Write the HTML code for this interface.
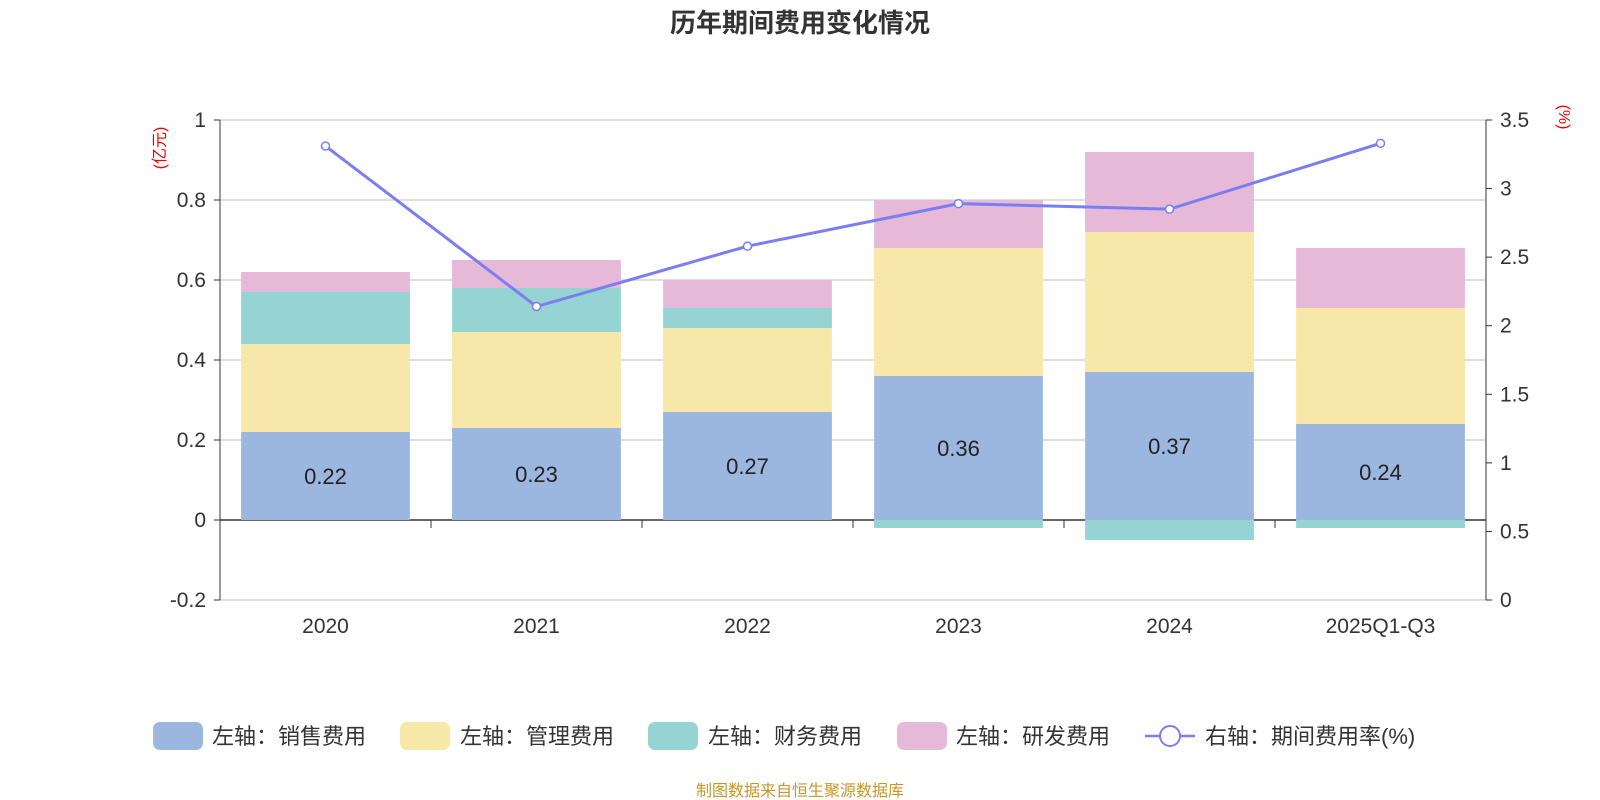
<!DOCTYPE html>
<html><head><meta charset="utf-8">
<style>
html,body{margin:0;padding:0;background:#fff;}
svg{display:block;font-family:"Liberation Sans","Noto Sans CJK SC",sans-serif;}
</style></head>
<body>
<svg id="chart" width="1600" height="800" viewBox="0 0 1600 800">
<text x="800" y="32" text-anchor="middle" font-size="26" font-weight="bold" fill="#333">历年期间费用变化情况</text>
<text transform="translate(165,148) rotate(-90)" text-anchor="middle" font-size="16" fill="#e00">(亿元)</text>
<text transform="translate(1559,117) rotate(90)" text-anchor="middle" font-size="16" fill="#e00">(%)</text>
<g id="grid"></g><g id="bars"></g><g id="axes"></g><g id="line"></g>
<g id="legend" font-size="22" fill="#333">
<rect x="153" y="722" width="50" height="28" rx="7" fill="#9bb7e0"/>
<text x="212" y="744">左轴：销售费用</text>
<rect x="400" y="722" width="50" height="28" rx="7" fill="#f7e7a8"/>
<text x="460" y="744">左轴：管理费用</text>
<rect x="648" y="722" width="50" height="28" rx="7" fill="#96d3d3"/>
<text x="708" y="744">左轴：财务费用</text>
<rect x="897" y="722" width="50" height="28" rx="7" fill="#e6b9d9"/>
<text x="956" y="744">左轴：研发费用</text>
<line x1="1145" y1="736" x2="1195" y2="736" stroke="#7a7ef0" stroke-width="2.5"/>
<circle cx="1170" cy="736" r="10" fill="#fff" stroke="#7a7ef0" stroke-width="2"/>
<text x="1205" y="744">右轴：期间费用率(%)</text>
</g>
<text x="800" y="796" text-anchor="middle" font-size="16" fill="#c8962a">制图数据来自恒生聚源数据库</text>
</svg>
<script>
const categories=["2020","2021","2022","2023","2024","2025Q1-Q3"];
const sales=[0.22,0.23,0.27,0.36,0.37,0.24];
const admin=[0.22,0.24,0.21,0.32,0.35,0.29];
const finance=[0.13,0.11,0.05,-0.02,-0.05,-0.02];
const rd=[0.05,0.07,0.07,0.12,0.20,0.15];
const rate=[3.31,2.14,2.58,2.89,2.85,3.33];
const leftTicks=[1,0.8,0.6,0.4,0.2,0,-0.2];
const rightTicks=[3.5,3,2.5,2,1.5,1,0.5,0];
const NS="http://www.w3.org/2000/svg";
const X0=220,X1=1486,YT=120,YB=600;
const yL=v=>YB-(v+0.2)/1.2*(YB-YT);
const yR=v=>YB-(v/3.5)*(YB-YT);
const band=(X1-X0)/categories.length;
const xC=i=>X0+band*(i+0.5);
function mk(tag,attrs,parent){const e=document.createElementNS(NS,tag);for(const k in attrs)e.setAttribute(k,attrs[k]);document.getElementById(parent).appendChild(e);return e;}
leftTicks.forEach(t=>{
 const l=mk('line',{x1:X0,x2:X1,y1:yL(t),y2:yL(t),stroke:t===0?'#333':'#ccc','stroke-width':t===0?1.5:1.2},'grid');
 
 
 const tx=mk('text',{x:X0-14,y:yL(t)+7,'text-anchor':'end','font-size':21,fill:'#333'},'axes');
 tx.textContent=String(t);
 
 
 const tk=mk('line',{x1:X0-6,x2:X0,y1:yL(t),y2:yL(t),stroke:'#333'},'axes');
 
 
});
rightTicks.forEach(t=>{
 const tx=mk('text',{x:X1+14,y:yR(t)+7,'font-size':21,fill:'#333'},'axes');
 tx.textContent=String(t);
 
 
 const tk=mk('line',{x1:X1,x2:X1+6,y1:yR(t),y2:yR(t),stroke:'#333'},'axes');
 
 
});
let a=mk('line',{x1:X0,x2:X0,y1:YT,y2:YB,stroke:'#333'},'axes');


a=mk('line',{x1:X1,x2:X1,y1:YT,y2:YB,stroke:'#333'},'axes');


categories.forEach((c,i)=>{
 const tk=mk('line',{x1:X0+band*(i+1),x2:X0+band*(i+1),y1:yL(0),y2:yL(0)+8,stroke:'#333'},'axes');
 
 
 const tx=mk('text',{x:xC(i),y:633,'text-anchor':'middle','font-size':21,fill:'#333'},'axes');
 tx.textContent=c;
 
 
});
const series=[[sales,'#9bb7e0','sales'],[admin,'#f7e7a8','admin'],[finance,'#96d3d3','finance'],[rd,'#e6b9d9','rd']];
const bw=band*0.8;
categories.forEach((c,i)=>{
 let pos=0,neg=0;
 series.forEach(([arr,col,nm])=>{
  const v=arr[i];let y0,y1;
  if(v>=0){y0=pos;y1=pos+v;pos=y1;}else{y0=neg;y1=neg+v;neg=y1;}
  const top=Math.min(yL(y0),yL(y1)),h=Math.abs(yL(y1)-yL(y0));
  const r=mk('rect',{x:xC(i)-bw/2,y:top,width:bw,height:h,fill:col},'bars');
  
  
 });
 const lb=mk('text',{x:xC(i),y:yL(sales[i]/2)+8,'text-anchor':'middle','font-size':22,fill:'#222'},'bars');
 lb.textContent=sales[i].toFixed(2);
 
 
});
const pl=mk('polyline',{points:rate.map((v,i)=>xC(i)+','+yR(v)).join(' '),fill:'none',stroke:'#7a7ef0','stroke-width':3},'line');


rate.forEach((v,i)=>{
 const p=mk('circle',{cx:xC(i),cy:yR(v),r:4,fill:'#fff',stroke:'#7a7ef0','stroke-width':1.5},'line');
 
 
});
</script>
</body></html>
